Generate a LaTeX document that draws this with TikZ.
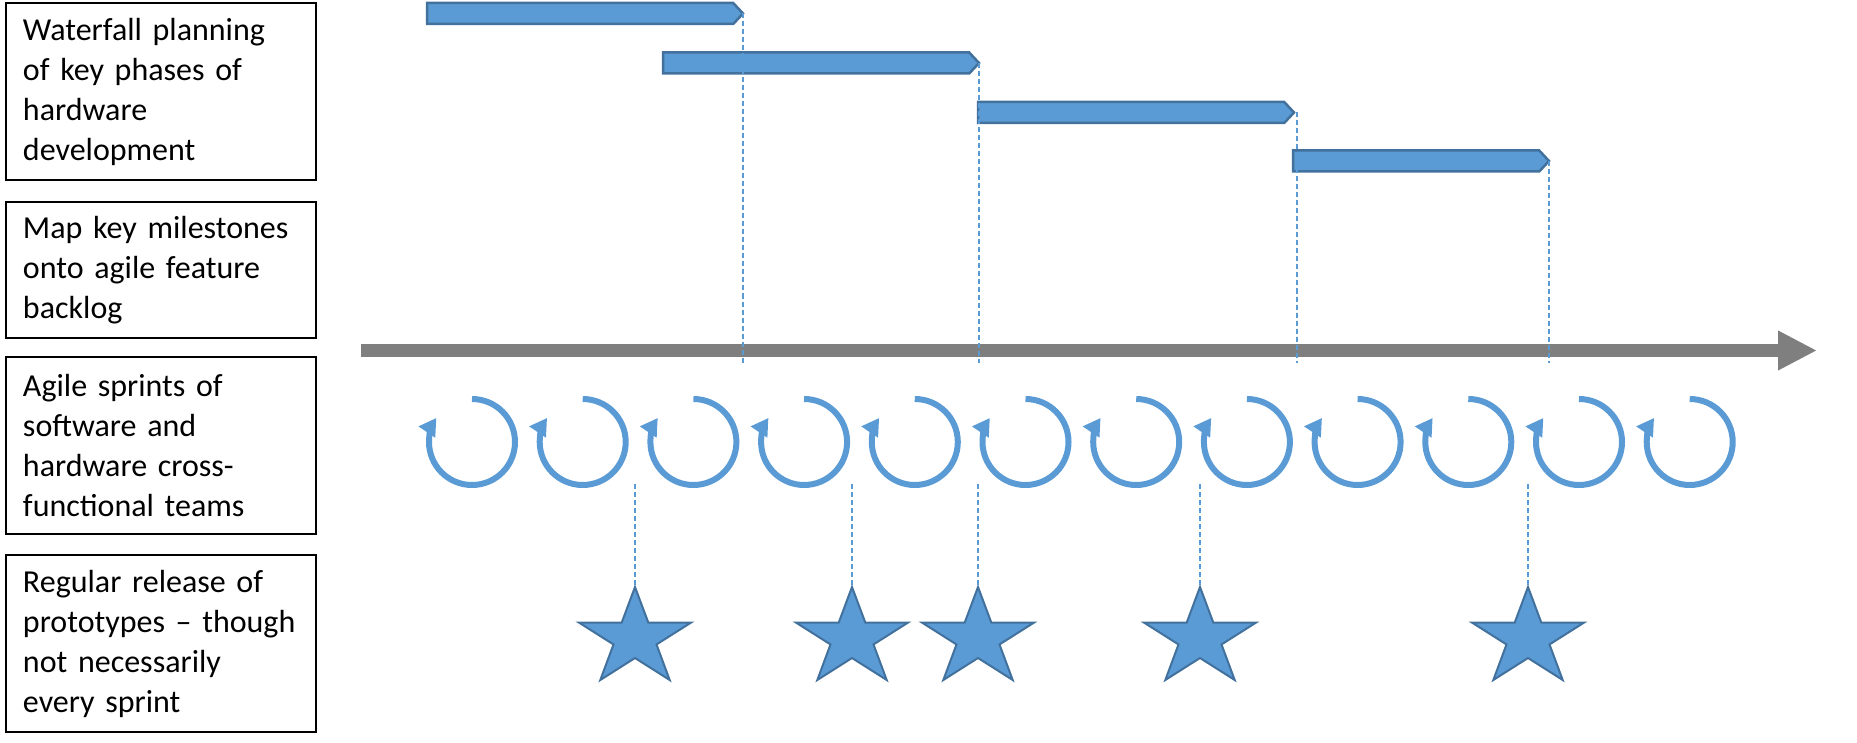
\documentclass[tikz,border=0pt]{standalone}
\usepackage{fontspec}
\setmainfont{Carlito}
\usetikzlibrary{arrows.meta,positioning,shapes.symbols}
\definecolor{phasefill}{HTML}{5B9BD5}
\definecolor{phaseedge}{HTML}{41719C}
\definecolor{axisgrey}{HTML}{7F7F7F}
\tikzset{
  rowbox/.style={draw, line width=2pt, outer sep=0pt, inner xsep=17pt, text width=276pt, align=left, font=\fontsize{32pt}{40pt}\selectfont},
  phase/.style={signal, signal to=east, signal from=nowhere, signal pointer angle=94, fill=phasefill, draw=phaseedge, line width=2.5pt, minimum height=21pt, inner sep=0pt, outer sep=0pt, anchor=west},
  milestone/.style={draw=phasefill, line width=1.6pt, dash pattern=on 5pt off 3pt},
  timeline/.style={draw=axisgrey, line width=13pt, -{Triangle[length=39pt,width=37pt]}},
  sprint/.style={draw=phasefill, line width=6pt, -{Triangle[length=17pt,width=19pt]}},
  prototype/.pic={\draw[fill=phasefill, draw=phaseedge, line width=2pt]
    (90:59pt and 51.4pt) -- (126:22.6pt and 19.6pt) -- (162:59pt and 51.4pt) -- (198:22.6pt and 19.6pt)
    -- (234:59pt and 51.4pt) -- (270:22.6pt and 19.6pt) -- (306:59pt and 51.4pt) -- (342:22.6pt and 19.6pt)
    -- (18:59pt and 51.4pt) -- (54:22.6pt and 19.6pt) -- cycle;}
}
\begin{document}
\begin{tikzpicture}[x=1pt,y=-1pt]
\useasboundingbox (0,0) rectangle (1857,743);
% row labels
\node[rowbox, minimum height=177pt] (waterfall) at (161,91.5) {Waterfall planning\\of key phases of\\hardware\\development};
\node[rowbox, minimum height=136pt, below=22pt of waterfall] (backlog) {Map key milestones\\onto agile feature\\backlog};
\node[rowbox, minimum height=177pt, below=19pt of backlog] (sprints) {Agile sprints of\\software and\\hardware cross-\\functional teams};
\node[rowbox, minimum height=177pt, below=21pt of sprints] (releases) {Regular release of\\prototypes – though\\not necessarily\\every sprint};
% waterfall phases
\node[phase, minimum width=316pt] (phase1) at (427,13.5) {};
\node[phase, minimum width=316pt] (phase2) at (663,63) {};
\node[phase, minimum width=316pt] (phase3) at (978,112.5) {};
\node[phase, minimum width=256pt] (phase4) at (1293,161) {};
% time axis
\coordinate (axis start) at (361,350.5);
\coordinate (axis end) at (1817,350.5);
\coordinate (axis low) at (0,363);
\draw[timeline] (axis start) -- (axis end);
\draw[milestone] (phase1.east) -- (phase1.east |- axis low);
\draw[milestone] (phase2.east) -- (phase2.east |- axis low);
\draw[milestone] ([xshift=3pt]phase3.east) -- ([xshift=3pt]phase3.east |- axis low);
\draw[milestone] (phase4.east) -- (phase4.east |- axis low);
% sprints
\foreach \i in {0,...,11}{
  \coordinate (sprint\i) at (472+110.7*\i,442);
  \draw[sprint] (sprint\i) ++(90:43pt) arc[start angle=90, end angle=-214, radius=43pt];
}
% prototype releases
\coordinate (sprint low) at (0,484);
\coordinate (proto1) at (635,587);
\coordinate (proto2) at (852,587);
\coordinate (proto3) at (978,587);
\coordinate (proto4) at (1200,587);
\coordinate (proto5) at (1528,587);
\draw[milestone] (proto1 |- sprint low) -- (proto1);
\draw[milestone] (proto2 |- sprint low) -- (proto2);
\draw[milestone] (proto3 |- sprint low) -- (proto3);
\draw[milestone] (proto4 |- sprint low) -- (proto4);
\draw[milestone] (proto5 |- sprint low) -- (proto5);
\pic at ([yshift=-51.4pt]proto1) {prototype};
\pic at ([yshift=-51.4pt]proto2) {prototype};
\pic at ([yshift=-51.4pt]proto3) {prototype};
\pic at ([yshift=-51.4pt]proto4) {prototype};
\pic at ([yshift=-51.4pt]proto5) {prototype};
\end{tikzpicture}
\end{document}
